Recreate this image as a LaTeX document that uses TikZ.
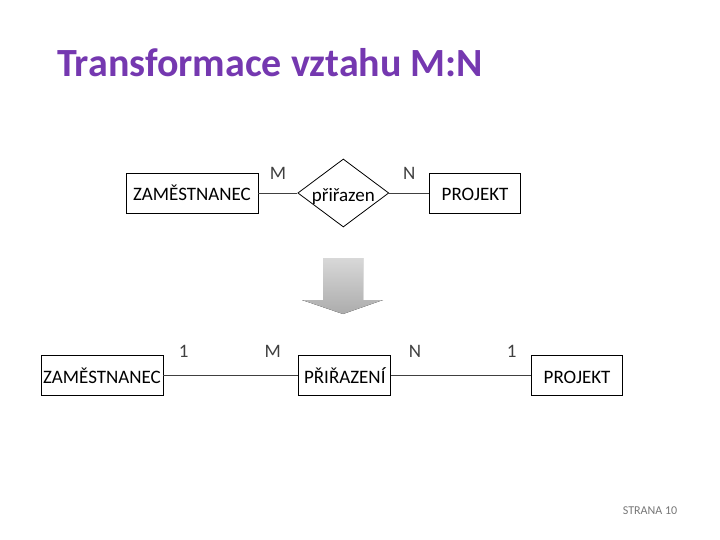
\documentclass[tikz,border=0pt]{standalone}
\usepackage{fontspec}
\setmainfont{Carlito}
\usetikzlibrary{shapes.geometric,positioning}
\definecolor{titlepurple}{RGB}{117,56,176}
\definecolor{arrowlight}{RGB}{216,216,216}
\definecolor{arrowdark}{RGB}{172,172,172}
\definecolor{pagegray}{RGB}{118,118,118}

\begin{document}
\begin{tikzpicture}[x=1pt, y=-1pt, -,
  entity/.style={rectangle, draw, minimum height=40pt, inner sep=0pt, line width=0.8pt, text height=16pt, text depth=0pt},
  relation/.style={diamond, draw, minimum width=91pt, minimum height=68pt, inner sep=0pt, line width=0.8pt, text height=17pt, text depth=0pt},
  card/.style={inner sep=0pt}]
  \tikzstyle{every node}=[font=\fontsize{19}{22}\selectfont]
  \useasboundingbox (0,0) rectangle (720,540);

  \node[font=\fontsize{40}{46}\selectfont\bfseries, text=titlepurple, anchor=base west, inner sep=0pt] (0) at (57,77) {Transformace vztahu M:N};

  % vztah M:N
  \node[entity, minimum width=132pt] (1) at (192,193) {ZAMĚSTNANEC};
  \node[relation] (2) [right=39pt of 1] {\makebox[0pt]{přiřazen}};
  \node[entity, minimum width=91pt] (3) [right=40pt of 2] {PROJEKT};

  \path[every edge/.append style={line width=0.8pt, black!75}]
    (1) edge node [card, above=13pt] {M} (2)
    (2) edge node [card, above=13pt] {N} (3);

  % sipka
  \fill[top color=arrowlight, bottom color=arrowdark] (323,258) -- (363,258) -- (363,300) -- (383,300)
    -- (343,314) -- (302,300) -- (323,300) -- cycle;

  % rozklad na dva vztahy 1:N
  \node[entity, minimum width=122pt] (4) at (102,375) {ZAMĚSTNANEC};
  \node[entity, minimum width=92pt] (5) [right=135pt of 4] {PŘIŘAZENÍ};
  \node[entity, minimum width=91pt] (6) [right=140pt of 5] {PROJEKT};

  \path[every edge/.append style={line width=0.8pt, black!75}]
    (4) edge node [card, pos=0.15, above=17pt] {1} node [card, pos=0.81, above=17pt] {M} (5)
    (5) edge node [card, pos=0.17, above=17pt] {N} node [card, pos=0.86, above=17pt] {1} (6);

  \node[font=\fontsize{12}{14}\selectfont, text=pagegray, inner sep=0pt] (10) at (650,511) {STRANA 10};
\end{tikzpicture}
\end{document}
